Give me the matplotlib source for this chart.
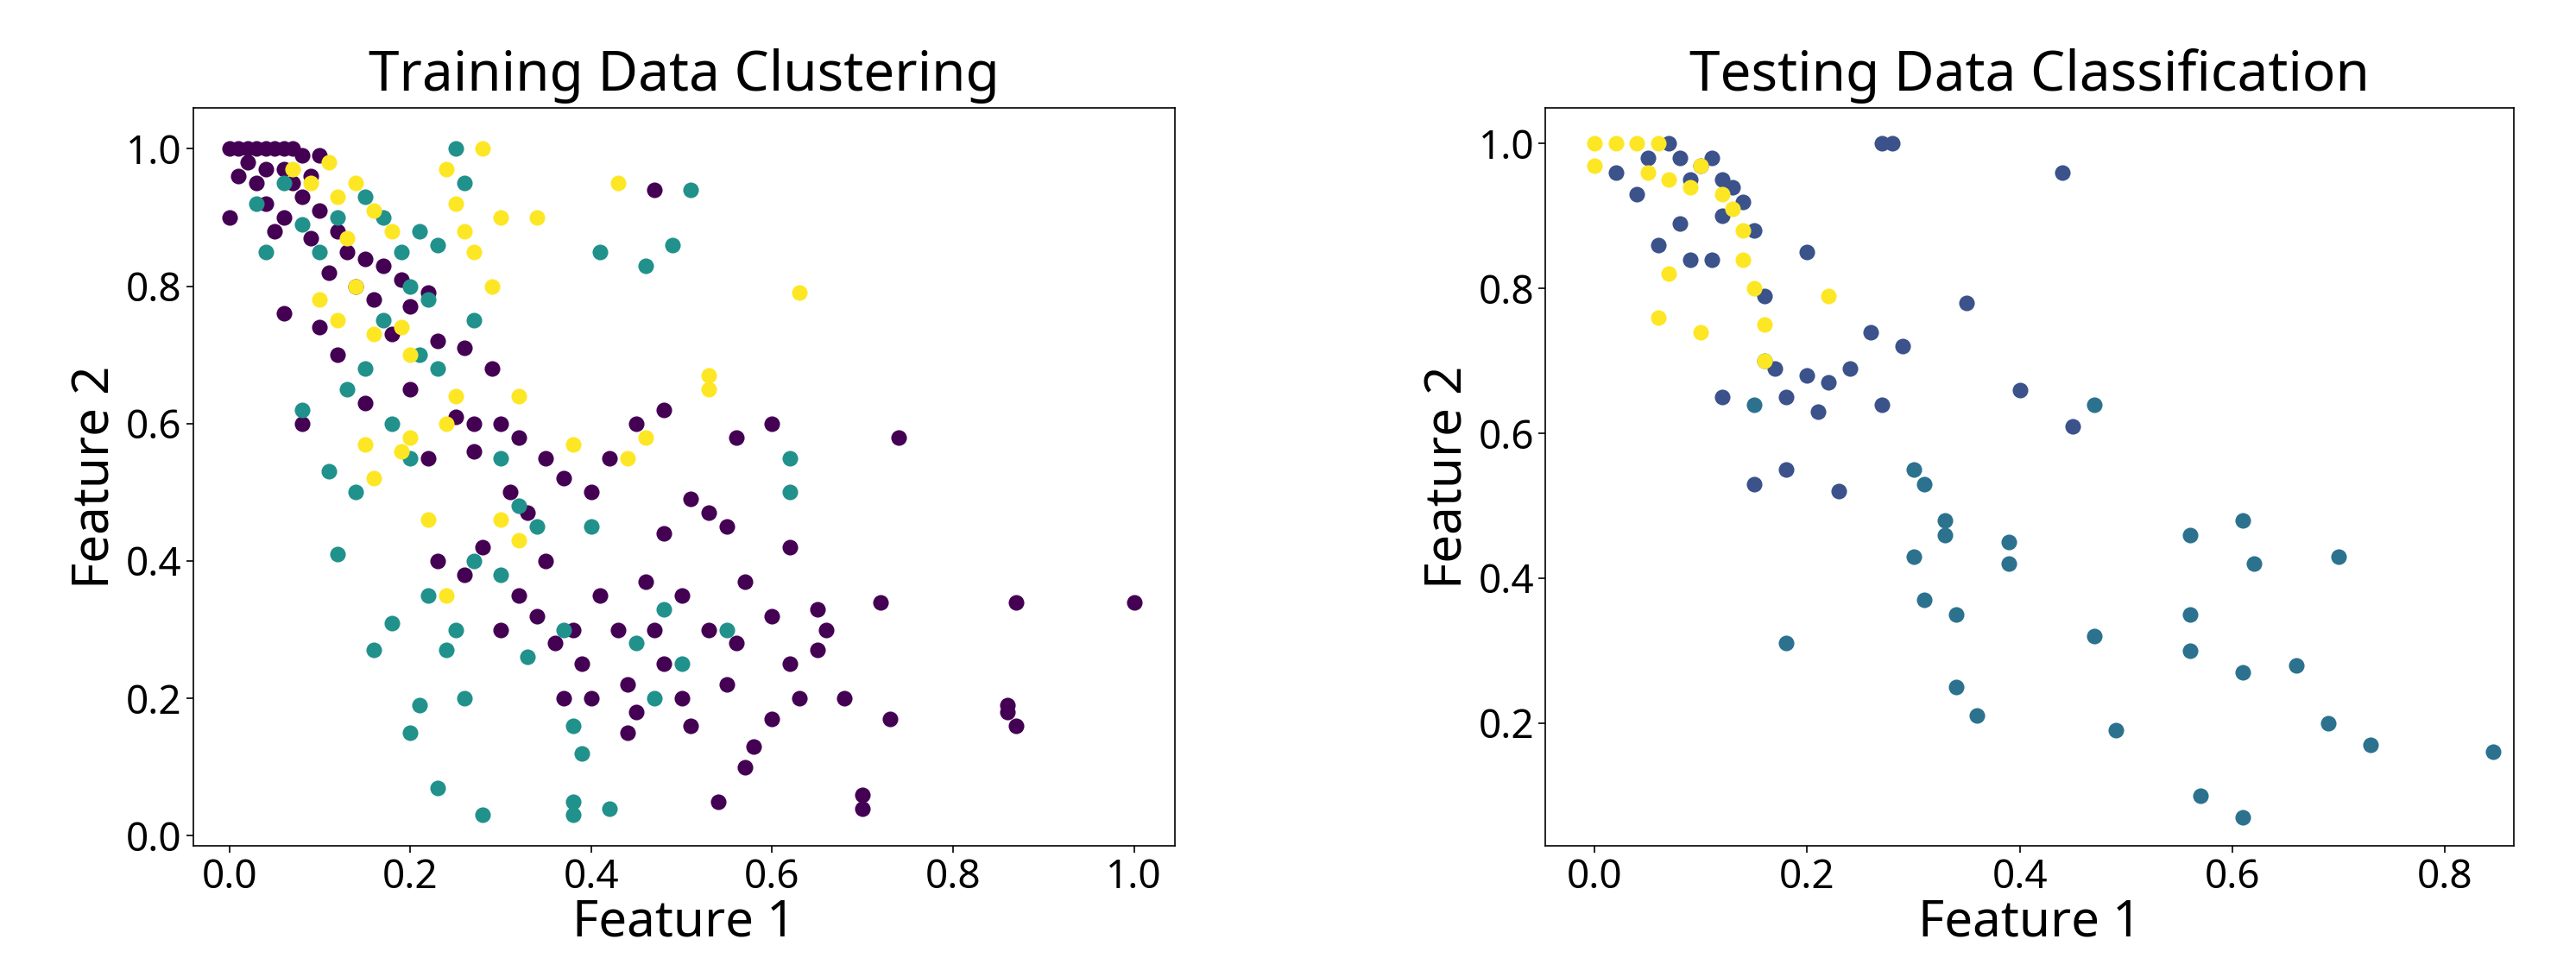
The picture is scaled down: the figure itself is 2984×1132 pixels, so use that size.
import matplotlib
matplotlib.use("Agg")
import matplotlib.pyplot as plt

plt.rcParams["font.family"] = "Noto Sans"

train_purple = [(0,1),(0.01,1),(0.02,1),(0.03,1),(0.04,1),(0.05,1),(0.06,1),(0.07,1),(0.08,0.99),(0.1,0.99),(0.02,0.98),(0.04,0.97),(0.06,0.97),(0.01,0.96),(0.03,0.95),(0.07,0.95),(0.09,0.96),(0.0,0.9),(0.04,0.92),(0.06,0.9),(0.08,0.93),(0.1,0.91),(0.12,0.88),(0.05,0.88),(0.09,0.87),(0.13,0.85),(0.15,0.84),(0.17,0.83),(0.11,0.82),(0.14,0.8),(0.19,0.81),(0.16,0.78),(0.2,0.77),(0.22,0.79),(0.06,0.76),(0.1,0.74),(0.18,0.73),(0.23,0.72),(0.12,0.7),(0.26,0.71),(0.08,0.6),(0.15,0.63),(0.2,0.65),(0.25,0.61),(0.29,0.68),(0.3,0.6),(0.22,0.55),(0.27,0.56),(0.32,0.58),(0.35,0.55),(0.31,0.5),(0.37,0.52),(0.33,0.47),(0.4,0.5),(0.42,0.55),(0.45,0.6),(0.48,0.62),(0.51,0.49),(0.53,0.47),(0.55,0.45),(0.48,0.44),(0.56,0.58),(0.6,0.6),(0.74,0.58),(0.23,0.4),(0.26,0.38),(0.28,0.42),(0.3,0.3),(0.32,0.35),(0.34,0.32),(0.36,0.28),(0.38,0.3),(0.39,0.25),(0.4,0.2),(0.41,0.35),(0.43,0.3),(0.44,0.22),(0.45,0.18),(0.46,0.37),(0.47,0.3),(0.48,0.25),(0.5,0.35),(0.5,0.2),(0.51,0.16),(0.53,0.3),(0.54,0.05),(0.55,0.22),(0.56,0.28),(0.57,0.1),(0.58,0.13),(0.6,0.32),(0.6,0.17),(0.62,0.25),(0.63,0.2),(0.65,0.27),(0.66,0.3),(0.68,0.2),(0.7,0.06),(0.7,0.04),(0.72,0.34),(0.73,0.17),(0.62,0.42),(0.57,0.37),(0.65,0.33),(0.86,0.19),(0.86,0.18),(0.87,0.16),(0.87,0.34),(1.0,0.34),(0.47,0.94),(0.35,0.4),(0.27,0.6),(0.44,0.15),(0.37,0.2)]
train_teal = [(0.03,0.92),(0.06,0.95),(0.08,0.89),(0.1,0.85),(0.04,0.85),(0.12,0.9),(0.15,0.93),(0.17,0.9),(0.19,0.85),(0.21,0.88),(0.23,0.86),(0.25,1.0),(0.26,0.95),(0.2,0.8),(0.22,0.78),(0.17,0.75),(0.21,0.7),(0.23,0.68),(0.27,0.75),(0.13,0.65),(0.15,0.68),(0.18,0.6),(0.2,0.55),(0.08,0.62),(0.11,0.53),(0.12,0.41),(0.14,0.5),(0.16,0.27),(0.18,0.31),(0.2,0.15),(0.21,0.19),(0.22,0.35),(0.23,0.07),(0.24,0.27),(0.25,0.3),(0.26,0.2),(0.28,0.03),(0.27,0.4),(0.3,0.38),(0.32,0.48),(0.34,0.45),(0.33,0.26),(0.37,0.3),(0.38,0.16),(0.38,0.05),(0.38,0.03),(0.39,0.12),(0.4,0.45),(0.41,0.85),(0.42,0.04),(0.46,0.83),(0.49,0.86),(0.51,0.94),(0.47,0.2),(0.48,0.33),(0.5,0.25),(0.55,0.3),(0.62,0.55),(0.62,0.5),(0.45,0.28),(0.3,0.55)]
train_yellow = [(0.07,0.97),(0.09,0.95),(0.11,0.98),(0.12,0.93),(0.14,0.95),(0.16,0.91),(0.13,0.87),(0.18,0.88),(0.1,0.78),(0.12,0.75),(0.14,0.8),(0.16,0.73),(0.19,0.74),(0.2,0.7),(0.15,0.57),(0.16,0.52),(0.19,0.56),(0.2,0.58),(0.22,0.46),(0.24,0.6),(0.25,0.64),(0.24,0.35),(0.24,0.97),(0.25,0.92),(0.26,0.88),(0.27,0.85),(0.28,1.0),(0.29,0.8),(0.3,0.9),(0.32,0.64),(0.32,0.43),(0.3,0.46),(0.34,0.9),(0.43,0.95),(0.44,0.55),(0.46,0.58),(0.53,0.65),(0.53,0.67),(0.63,0.79),(0.38,0.57)]

test_yellow = [(0,1),(0.02,1),(0.04,1),(0.06,1),(0,0.97),(0.05,0.96),(0.07,0.95),(0.09,0.94),(0.1,0.97),(0.12,0.93),(0.13,0.91),(0.14,0.88),(0.14,0.84),(0.15,0.8),(0.16,0.75),(0.16,0.7),(0.06,0.76),(0.07,0.82),(0.1,0.74),(0.22,0.79)]
test_blue = [(0.02,0.96),(0.04,0.93),(0.05,0.98),(0.06,0.86),(0.07,1.0),(0.08,0.98),(0.09,0.95),(0.1,0.97),(0.11,0.98),(0.08,0.89),(0.09,0.84),(0.11,0.84),(0.12,0.95),(0.13,0.94),(0.14,0.92),(0.15,0.88),(0.12,0.9),(0.16,0.79),(0.12,0.65),(0.15,0.53),(0.17,0.69),(0.2,0.85),(0.2,0.68),(0.21,0.63),(0.22,0.67),(0.23,0.52),(0.24,0.69),(0.26,0.74),(0.27,1.0),(0.28,1.0),(0.29,0.72),(0.27,0.64),(0.35,0.78),(0.4,0.66),(0.44,0.96),(0.45,0.61),(0.18,0.65),(0.18,0.55)]
test_teal = [(0.15,0.64),(0.16,0.7),(0.18,0.31),(0.3,0.55),(0.31,0.53),(0.3,0.43),(0.31,0.37),(0.33,0.48),(0.33,0.46),(0.34,0.35),(0.34,0.25),(0.36,0.21),(0.39,0.45),(0.39,0.42),(0.47,0.64),(0.47,0.32),(0.49,0.19),(0.56,0.46),(0.56,0.35),(0.56,0.3),(0.57,0.1),(0.61,0.48),(0.61,0.27),(0.61,0.07),(0.62,0.42),(0.66,0.28),(0.69,0.2),(0.7,0.43),(0.73,0.17),(0.845,0.16)]

fig = plt.figure(figsize=(29.84, 11.32), dpi=100)
ax1 = fig.add_axes([0.075, 0.134, 0.381, 0.756])
ax2 = fig.add_axes([0.600, 0.134, 0.376, 0.756])

def sc(ax, pts, c):
    xs = [p[0] for p in pts]; ys = [p[1] for p in pts]
    ax.scatter(xs, ys, c=c, s=170, linewidths=0)

sc(ax1, train_purple, "#440154")
sc(ax1, train_teal, "#21918c")
sc(ax1, train_yellow, "#fde725")
sc(ax2, test_blue, "#3b528b")
sc(ax2, test_teal, "#2c728e")
sc(ax2, test_yellow, "#fde725")

ax1.set_xlim(-0.04, 1.045); ax1.set_ylim(-0.015, 1.06)
ax2.set_xlim(-0.046, 0.865); ax2.set_ylim(0.03, 1.05)
ax1.set_xticks([0, 0.2, 0.4, 0.6, 0.8, 1.0]); ax1.set_yticks([0, 0.2, 0.4, 0.6, 0.8, 1.0])
ax2.set_xticks([0, 0.2, 0.4, 0.6, 0.8]); ax2.set_yticks([0.2, 0.4, 0.6, 0.8, 1.0])
for ax, t in [(ax1, "Training Data Clustering"), (ax2, "Testing Data Classification")]:
    ax.set_title(t, fontsize=46, pad=14)
    ax.set_xlabel("Feature 1", fontsize=42, labelpad=0)
    ax.set_ylabel("Feature 2", fontsize=42)
    ax.tick_params(labelsize=33, length=6, width=1.2)
    for s in ax.spines.values():
        s.set_linewidth(1.2)

fig.savefig("out.png", dpi=100)
